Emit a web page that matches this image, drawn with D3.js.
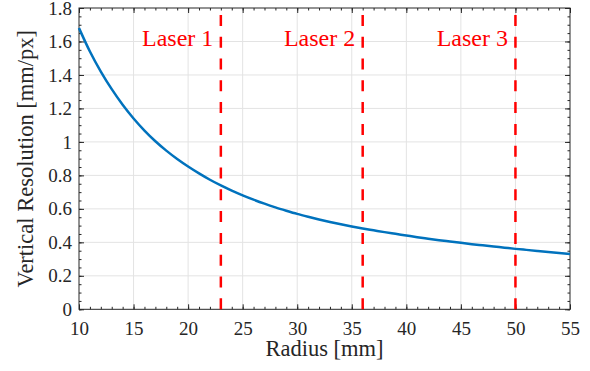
<!DOCTYPE html>
<html>
<head>
<meta charset="utf-8">
<script src="https://cdn.jsdelivr.net/npm/d3@7"></script>
<style>
  @font-face { font-family: "ChartSerif"; src: local("Liberation Serif"), local("LiberationSerif"), local("LiberationSerif-Regular"); }
  #chart text { font-family: "Liberation Serif", "ChartSerif" !important; }
</style>
</head>
<body style="margin:0">
<svg id="chart" width="590" height="371"></svg>
<script>
// Werte
const radius = [10, 11, 12, 13, 14, 15, 16, 17, 18, 19, 20, 21, 22, 23, 24, 25, 26, 27, 28, 29,
                30, 31, 32, 33, 34, 35, 36, 37, 38, 39, 40, 41, 42, 43, 44, 45, 46, 47, 48, 49,
                50, 51, 52, 53, 54, 55];
const resolution = [1.68, 1.54, 1.42, 1.315, 1.222, 1.14, 1.068, 1.004, 0.948, 0.898,
                    0.853, 0.812, 0.774, 0.74, 0.709, 0.681, 0.655, 0.631, 0.609, 0.589,
                    0.57, 0.553, 0.537, 0.522, 0.508, 0.495, 0.483, 0.472, 0.461, 0.451,
                    0.441, 0.431, 0.422, 0.413, 0.405, 0.397, 0.389, 0.382, 0.375, 0.368,
                    0.361, 0.355, 0.349, 0.343, 0.337, 0.331];
const laserPos   = [23, 36, 50];
const laserNames = ["Laser 1", "Laser 2", "Laser 3"];
const xTicks = [10, 15, 20, 25, 30, 35, 40, 45, 50, 55];
const yTicks = [0, 0.2, 0.4, 0.6, 0.8, 1, 1.2, 1.4, 1.6, 1.8];

const width = 590, height = 371;
const margin = { top: 8, right: 20, bottom: 61.7, left: 79 };
const innerWidth  = width  - margin.left - margin.right;
const innerHeight = height - margin.top  - margin.bottom;
const axisColor = "#262626";
const serif = '"Liberation Serif"';

const svg = d3.select("#chart");
const g = svg.append("g")
  .attr("transform", `translate(${margin.left},${margin.top})`);

const x = d3.scaleLinear().domain([10, 55]).range([0, innerWidth]);
const y = d3.scaleLinear().domain([0, 1.8]).range([innerHeight, 0]);

// Gitter
g.append("g").selectAll("line")
  .data(xTicks.slice(1, -1))
  .join("line")
  .attr("x1", d => x(d)).attr("x2", d => x(d))
  .attr("y1", 0).attr("y2", innerHeight)
  .attr("stroke", "#e3e3e3").attr("stroke-width", 1);

g.append("g").selectAll("line")
  .data(yTicks.slice(1, -1))
  .join("line")
  .attr("x1", 0).attr("x2", innerWidth)
  .attr("y1", d => y(d)).attr("y2", d => y(d))
  .attr("stroke", "#e3e3e3").attr("stroke-width", 1);

// Kleine Ticks
const xMinor = x.ticks(45);
const yMinor = y.ticks(36);

function styleAxis(sel) {
  sel.attr("font-family", null).attr("font-size", null);
  sel.select(".domain").remove();
  sel.selectAll("line").attr("stroke", axisColor).attr("stroke-width", 1);
  sel.selectAll("text")
    .attr("fill", axisColor)
    .attr("font-size", "19px")
    .style("font-family", serif);
}

g.append("g").attr("transform", `translate(0,${innerHeight})`)
  .call(d3.axisBottom(x).tickValues(xMinor).tickSizeInner(-2.5).tickSizeOuter(0).tickFormat(""))
  .call(styleAxis);
g.append("g")
  .call(d3.axisTop(x).tickValues(xMinor).tickSizeInner(-2.5).tickSizeOuter(0).tickFormat(""))
  .call(styleAxis);
g.append("g")
  .call(d3.axisLeft(y).tickValues(yMinor).tickSizeInner(-2.5).tickSizeOuter(0).tickFormat(""))
  .call(styleAxis);
g.append("g").attr("transform", `translate(${innerWidth},0)`)
  .call(d3.axisRight(y).tickValues(yMinor).tickSizeInner(-2.5).tickSizeOuter(0).tickFormat(""))
  .call(styleAxis);

// Hauptachsen
g.append("g").attr("transform", `translate(0,${innerHeight})`)
  .call(d3.axisBottom(x).tickValues(xTicks).tickSizeInner(-5).tickSizeOuter(0).tickPadding(12))
  .call(styleAxis);
g.append("g")
  .call(d3.axisTop(x).tickValues(xTicks).tickSizeInner(-5).tickSizeOuter(0).tickFormat(""))
  .call(styleAxis);
g.append("g")
  .call(d3.axisLeft(y).tickValues(yTicks).tickSizeInner(-5).tickSizeOuter(0).tickPadding(7)
    .tickFormat(d => d3.format("~g")(d)))
  .call(styleAxis);
g.append("g").attr("transform", `translate(${innerWidth},0)`)
  .call(d3.axisRight(y).tickValues(yTicks).tickSizeInner(-5).tickSizeOuter(0).tickFormat(""))
  .call(styleAxis);

// Rahmen
g.append("rect")
  .attr("width", innerWidth).attr("height", innerHeight)
  .attr("fill", "none").attr("stroke", axisColor).attr("stroke-width", 1);

// Kurve
const data = radius.map((r, i) => ({ r, v: resolution[i] }));
g.append("path")
  .datum(data)
  .attr("fill", "none")
  .attr("stroke", "#0072BD")
  .attr("stroke-width", 2.5)
  .attr("d", d3.line().x(d => x(d.r)).y(d => y(d.v)).curve(d3.curveMonotoneX));

// Laser-Linien
g.append("g").selectAll("line")
  .data(laserPos)
  .join("line")
  .attr("x1", d => x(d)).attr("x2", d => x(d))
  .attr("y1", innerHeight).attr("y2", 0)
  .attr("stroke", "#ff0000")
  .attr("stroke-width", 2.5)
  .attr("stroke-dasharray", "11,10.8");

g.append("g").selectAll("text")
  .data(laserPos)
  .join("text")
  .attr("x", d => x(d) - 7.5)
  .attr("y", 38)
  .attr("text-anchor", "end")
  .attr("fill", "#ff0000")
  .attr("font-size", "24px")
  .style("font-family", serif)
  .text((d, i) => laserNames[i]);

// Achsenbeschriftungen
svg.append("text")
  .attr("x", margin.left + innerWidth / 2)
  .attr("y", 356)
  .attr("text-anchor", "middle")
  .attr("fill", axisColor)
  .attr("font-size", "22.5px")
  .style("font-family", serif)
  .text("Radius [mm]");

svg.append("text")
  .attr("transform", "rotate(-90)")
  .attr("x", -(margin.top + innerHeight / 2))
  .attr("y", 33)
  .attr("text-anchor", "middle")
  .attr("fill", axisColor)
  .attr("font-size", "22.5px")
  .style("font-family", serif)
  .text("Vertical Resolution [mm/px]");
</script>
</body>
</html>
